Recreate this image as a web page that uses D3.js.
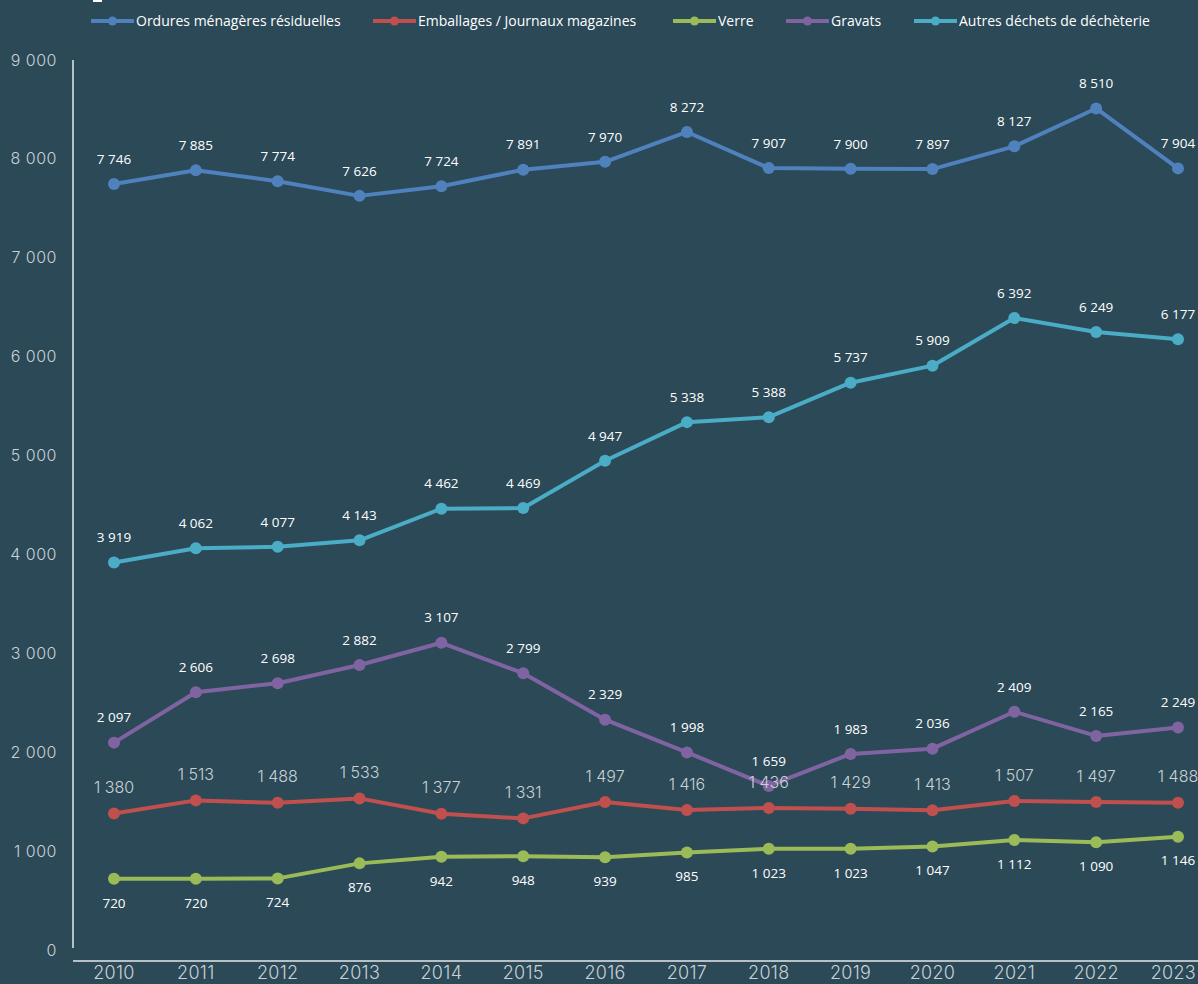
<!DOCTYPE html>
<html><head><meta charset="utf-8">
<script src="https://cdn.jsdelivr.net/npm/d3@7"></script>
<style>
html,body{margin:0;padding:0;background:#2b4957;}
svg{display:block;}
</style></head><body>
<svg id="c" width="1198" height="984"></svg>
<script>
const years = [2010,2011,2012,2013,2014,2015,2016,2017,2018,2019,2020,2021,2022,2023];
const ordures = [7746,7885,7774,7626,7724,7891,7970,8272,7907,7900,7897,8127,8510,7904];
const emballages = [1380,1513,1488,1533,1377,1331,1497,1416,1436,1429,1413,1507,1497,1488];
const verre = [720,720,724,876,942,948,939,985,1023,1023,1047,1112,1090,1146];
const gravats = [2097,2606,2698,2882,3107,2799,2329,1998,1659,1983,2036,2409,2165,2249];
const autres = [3919,4062,4077,4143,4462,4469,4947,5338,5388,5737,5909,6392,6249,6177];
const seriesNames = ["Ordures ménagères résiduelles","Emballages / Journaux magazines","Verre","Gravats","Autres déchets de déchèterie"];
const yTicks = [0,1000,2000,3000,4000,5000,6000,7000,8000,9000];

const colors = ["#4f81bd","#c0504d","#9bbb59","#8064a2","#4bacc6"];
const seriesData = [ordures, emballages, verre, gravats, autres];
const labelPos = [-25, -26, 24, -25, -25];
const labelThin = [false, true, false, false, false];

const svg = d3.select("#c");
const x = d3.scalePoint().domain(years).range([114,1178]);
const y = d3.scaleLinear().domain([0,9000]).range([950,60]);
const fmt = v => d3.format(",")(v).replace(/,/g, " ");

// axes
svg.append("line").attr("x1",73).attr("x2",73).attr("y1",60).attr("y2",948)
  .attr("stroke","#e6eaec").attr("stroke-width",1.5);
svg.append("line").attr("x1",73).attr("x2",1198).attr("y1",961).attr("y2",961)
  .attr("stroke","#e6eaec").attr("stroke-width",1.5);

const thinFont = "Inter, 'Noto Sans', sans-serif";
svg.append("g").selectAll("text").data(yTicks).join("text")
  .attr("x",57).attr("y",d=>y(d)).attr("dy","0.35em")
  .attr("text-anchor","end").attr("font-family",thinFont).attr("font-weight",300)
  .attr("font-size",16).attr("letter-spacing",0.5).attr("fill","#c9d1d5")
  .text(d=>fmt(d));

const lastYear = years[years.length-1];
svg.append("g").selectAll("text").data(years).join("text")
  .attr("x",d=> d===lastYear ? 1196 : x(d)).attr("y",979)
  .attr("text-anchor",d=> d===lastYear ? "end" : "middle")
  .attr("font-family",thinFont).attr("font-weight",300)
  .attr("font-size",18).attr("letter-spacing",0.3).attr("fill","#c9d1d5")
  .text(d=>d);

// lines
const line = d3.line().x((d,i)=>x(years[i])).y(d=>y(d));
seriesData.forEach((s,k)=>{
  const g = svg.append("g");
  g.append("path").datum(s).attr("d",line).attr("fill","none")
    .attr("stroke",colors[k]).attr("stroke-width",4).attr("stroke-linejoin","round");
  g.selectAll("circle").data(s).join("circle")
    .attr("cx",(d,i)=>x(years[i])).attr("cy",d=>y(d)).attr("r",6).attr("fill",colors[k]);
});
// labels
seriesData.forEach((s,k)=>{
  svg.append("g").selectAll("text").data(s).join("text")
    .attr("x",(d,i)=>x(years[i])).attr("y",d=>y(d)+labelPos[k]).attr("dy","0.35em")
    .attr("text-anchor","middle")
    .attr("font-family", labelThin[k] ? thinFont : "'Open Sans', sans-serif")
    .attr("font-weight", labelThin[k] ? 300 : 400)
    .attr("font-size", labelThin[k] ? 16 : 13.5)
    .attr("fill", labelThin[k] ? "#c9d1d5" : "#ffffff")
    .text(d=>fmt(d));
});

// legend
const legX = [91, 373, 673, 786, 914];
const lg = svg.append("g");
seriesNames.forEach((n,k)=>{
  lg.append("line").attr("x1",legX[k]).attr("x2",legX[k]+43).attr("y1",21).attr("y2",21)
    .attr("stroke",colors[k]).attr("stroke-width",4);
  lg.append("circle").attr("cx",legX[k]+21.5).attr("cy",21).attr("r",4.5).attr("fill",colors[k]);
  lg.append("text").attr("x",legX[k]+45).attr("y",21).attr("dy","0.35em")
    .attr("font-family","'Open Sans', sans-serif").attr("font-size",14).attr("fill","#ffffff")
    .text(n);
});
svg.append("rect").attr("x",93).attr("y",0).attr("width",9).attr("height",2).attr("fill","#ffffff");
</script>
</body></html>
